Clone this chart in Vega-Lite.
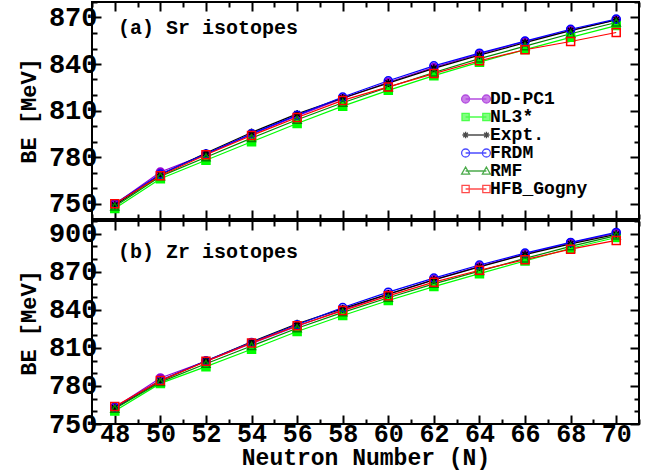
{
  "$schema": "https://vega.github.io/schema/vega-lite/v6.json",
  "padding": {"left": 16, "top": 0, "right": 10, "bottom": 0},
  "spacing": -4,
  "datasets": {
    "sr": [
      {"N": 48, "model": "DD-PC1", "BE": 749.5}, {"N": 50, "model": "DD-PC1", "BE": 770.3}, {"N": 52, "model": "DD-PC1", "BE": 781.8}, {"N": 54, "model": "DD-PC1", "BE": 794.6}, {"N": 56, "model": "DD-PC1", "BE": 806.5}, {"N": 58, "model": "DD-PC1", "BE": 817.8}, {"N": 60, "model": "DD-PC1", "BE": 828.2}, {"N": 62, "model": "DD-PC1", "BE": 837.8}, {"N": 64, "model": "DD-PC1", "BE": 846.5}, {"N": 66, "model": "DD-PC1", "BE": 854.5}, {"N": 68, "model": "DD-PC1", "BE": 861.8}, {"N": 70, "model": "DD-PC1", "BE": 868.5},
      {"N": 48, "model": "NL3*", "BE": 746.8}, {"N": 50, "model": "NL3*", "BE": 766.0}, {"N": 52, "model": "NL3*", "BE": 777.9}, {"N": 54, "model": "NL3*", "BE": 789.8}, {"N": 56, "model": "NL3*", "BE": 801.6}, {"N": 58, "model": "NL3*", "BE": 812.8}, {"N": 60, "model": "NL3*", "BE": 823.0}, {"N": 62, "model": "NL3*", "BE": 832.5}, {"N": 64, "model": "NL3*", "BE": 841.2}, {"N": 66, "model": "NL3*", "BE": 849.3}, {"N": 68, "model": "NL3*", "BE": 857.2}, {"N": 70, "model": "NL3*", "BE": 864.8},
      {"N": 48, "model": "Expt.", "BE": 748.9}, {"N": 50, "model": "Expt.", "BE": 768.5}, {"N": 52, "model": "Expt.", "BE": 782.6}, {"N": 54, "model": "Expt.", "BE": 795.8}, {"N": 56, "model": "Expt.", "BE": 807.8}, {"N": 58, "model": "Expt.", "BE": 818.1}, {"N": 60, "model": "Expt.", "BE": 827.7}, {"N": 62, "model": "Expt.", "BE": 837.2}, {"N": 64, "model": "Expt.", "BE": 845.7}, {"N": 66, "model": "Expt.", "BE": 853.8}, {"N": 68, "model": "Expt.", "BE": 861.5}, {"N": 70, "model": "Expt.", "BE": 868.5},
      {"N": 48, "model": "FRDM", "BE": 749.9}, {"N": 50, "model": "FRDM", "BE": 769.0}, {"N": 52, "model": "FRDM", "BE": 782.0}, {"N": 54, "model": "FRDM", "BE": 795.0}, {"N": 56, "model": "FRDM", "BE": 807.0}, {"N": 58, "model": "FRDM", "BE": 818.7}, {"N": 60, "model": "FRDM", "BE": 829.2}, {"N": 62, "model": "FRDM", "BE": 838.8}, {"N": 64, "model": "FRDM", "BE": 847.0}, {"N": 66, "model": "FRDM", "BE": 854.8}, {"N": 68, "model": "FRDM", "BE": 862.4}, {"N": 70, "model": "FRDM", "BE": 869.0},
      {"N": 48, "model": "RMF", "BE": 748.0}, {"N": 50, "model": "RMF", "BE": 767.5}, {"N": 52, "model": "RMF", "BE": 779.8}, {"N": 54, "model": "RMF", "BE": 792.2}, {"N": 56, "model": "RMF", "BE": 804.0}, {"N": 58, "model": "RMF", "BE": 815.0}, {"N": 60, "model": "RMF", "BE": 825.0}, {"N": 62, "model": "RMF", "BE": 834.5}, {"N": 64, "model": "RMF", "BE": 843.5}, {"N": 66, "model": "RMF", "BE": 851.5}, {"N": 68, "model": "RMF", "BE": 859.5}, {"N": 70, "model": "RMF", "BE": 866.8},
      {"N": 48, "model": "HFB_Gogny", "BE": 749.8}, {"N": 50, "model": "HFB_Gogny", "BE": 767.9}, {"N": 52, "model": "HFB_Gogny", "BE": 781.5}, {"N": 54, "model": "HFB_Gogny", "BE": 793.9}, {"N": 56, "model": "HFB_Gogny", "BE": 805.5}, {"N": 58, "model": "HFB_Gogny", "BE": 816.5}, {"N": 60, "model": "HFB_Gogny", "BE": 825.2}, {"N": 62, "model": "HFB_Gogny", "BE": 833.8}, {"N": 64, "model": "HFB_Gogny", "BE": 842.1}, {"N": 66, "model": "HFB_Gogny", "BE": 849.2}, {"N": 68, "model": "HFB_Gogny", "BE": 854.5}, {"N": 70, "model": "HFB_Gogny", "BE": 860.3}
    ],
    "zr": [
      {"N": 48, "model": "DD-PC1", "BE": 763.0}, {"N": 50, "model": "DD-PC1", "BE": 786.3}, {"N": 52, "model": "DD-PC1", "BE": 799.5}, {"N": 54, "model": "DD-PC1", "BE": 813.5}, {"N": 56, "model": "DD-PC1", "BE": 827.0}, {"N": 58, "model": "DD-PC1", "BE": 840.0}, {"N": 60, "model": "DD-PC1", "BE": 852.3}, {"N": 62, "model": "DD-PC1", "BE": 863.8}, {"N": 64, "model": "DD-PC1", "BE": 874.2}, {"N": 66, "model": "DD-PC1", "BE": 884.0}, {"N": 68, "model": "DD-PC1", "BE": 892.8}, {"N": 70, "model": "DD-PC1", "BE": 900.5},
      {"N": 48, "model": "NL3*", "BE": 760.3}, {"N": 50, "model": "NL3*", "BE": 782.0}, {"N": 52, "model": "NL3*", "BE": 795.2}, {"N": 54, "model": "NL3*", "BE": 808.9}, {"N": 56, "model": "NL3*", "BE": 822.9}, {"N": 58, "model": "NL3*", "BE": 835.5}, {"N": 60, "model": "NL3*", "BE": 847.3}, {"N": 62, "model": "NL3*", "BE": 858.3}, {"N": 64, "model": "NL3*", "BE": 868.5}, {"N": 66, "model": "NL3*", "BE": 878.5}, {"N": 68, "model": "NL3*", "BE": 888.5}, {"N": 70, "model": "NL3*", "BE": 897.0},
      {"N": 48, "model": "Expt.", "BE": 762.6}, {"N": 50, "model": "Expt.", "BE": 783.9}, {"N": 52, "model": "Expt.", "BE": 799.7}, {"N": 54, "model": "Expt.", "BE": 814.7}, {"N": 56, "model": "Expt.", "BE": 829.0}, {"N": 58, "model": "Expt.", "BE": 840.9}, {"N": 60, "model": "Expt.", "BE": 852.4}, {"N": 62, "model": "Expt.", "BE": 863.6}, {"N": 64, "model": "Expt.", "BE": 873.9}, {"N": 66, "model": "Expt.", "BE": 883.5}, {"N": 68, "model": "Expt.", "BE": 892.0}, {"N": 70, "model": "Expt.", "BE": 899.5},
      {"N": 48, "model": "FRDM", "BE": 763.2}, {"N": 50, "model": "FRDM", "BE": 784.5}, {"N": 52, "model": "FRDM", "BE": 799.8}, {"N": 54, "model": "FRDM", "BE": 814.3}, {"N": 56, "model": "FRDM", "BE": 828.2}, {"N": 58, "model": "FRDM", "BE": 841.8}, {"N": 60, "model": "FRDM", "BE": 853.9}, {"N": 62, "model": "FRDM", "BE": 865.0}, {"N": 64, "model": "FRDM", "BE": 875.3}, {"N": 66, "model": "FRDM", "BE": 884.7}, {"N": 68, "model": "FRDM", "BE": 893.1}, {"N": 70, "model": "FRDM", "BE": 901.0},
      {"N": 48, "model": "RMF", "BE": 762.0}, {"N": 50, "model": "RMF", "BE": 783.0}, {"N": 52, "model": "RMF", "BE": 797.5}, {"N": 54, "model": "RMF", "BE": 811.5}, {"N": 56, "model": "RMF", "BE": 825.5}, {"N": 58, "model": "RMF", "BE": 838.0}, {"N": 60, "model": "RMF", "BE": 849.5}, {"N": 62, "model": "RMF", "BE": 860.5}, {"N": 64, "model": "RMF", "BE": 870.5}, {"N": 66, "model": "RMF", "BE": 880.5}, {"N": 68, "model": "RMF", "BE": 890.0}, {"N": 70, "model": "RMF", "BE": 898.5},
      {"N": 48, "model": "HFB_Gogny", "BE": 763.7}, {"N": 50, "model": "HFB_Gogny", "BE": 784.2}, {"N": 52, "model": "HFB_Gogny", "BE": 799.4}, {"N": 54, "model": "HFB_Gogny", "BE": 813.9}, {"N": 56, "model": "HFB_Gogny", "BE": 827.4}, {"N": 58, "model": "HFB_Gogny", "BE": 839.4}, {"N": 60, "model": "HFB_Gogny", "BE": 851.0}, {"N": 62, "model": "HFB_Gogny", "BE": 861.8}, {"N": 64, "model": "HFB_Gogny", "BE": 871.2}, {"N": 66, "model": "HFB_Gogny", "BE": 879.5}, {"N": 68, "model": "HFB_Gogny", "BE": 887.8}, {"N": 70, "model": "HFB_Gogny", "BE": 894.7}
    ]
  },
  "vconcat": [
    {
      "width": 547,
      "height": 217,
      "data": {"name": "sr"},
      "title": {"text": "(a) Sr isotopes", "anchor": "start", "frame": "group", "orient": "top", "offset": 0, "baseline": "alphabetic", "dx": 26, "dy": 53, "fontSize": 20, "font": "Liberation Mono", "fontWeight": "bold", "color": "black"},
      "layer": [
        {
          "mark": {"type": "line", "strokeWidth": 1.2},
          "encoding": {
            "x": {"field": "N", "type": "quantitative", "scale": {"domain": [47, 71], "nice": false, "zero": false},
                  "axis": {"orient": "bottom", "values": [48, 50, 52, 54, 56, 58, 60, 62, 64, 66, 68, 70], "tickSize": -9, "labels": false, "title": null}},
            "y": {"field": "BE", "type": "quantitative", "scale": {"domain": [740, 880], "nice": false, "zero": false},
                  "axis": {"orient": "left", "values": [750, 780, 810, 840, 870], "tickSize": -9, "labelFontSize": 27, "labelPadding": 4, "title": "BE [MeV]", "titleFontSize": 22, "titlePadding": 8}},
            "stroke": {"field": "model", "type": "nominal", "legend": null,
                       "scale": {"domain": ["DD-PC1", "NL3*", "Expt.", "FRDM", "RMF", "HFB_Gogny"], "range": ["#9400d3", "#00ff00", "#000000", "#0000ff", "#008800", "#ff0000"]}}
          }
        },
        {
          "mark": {"type": "point", "filled": false, "size": 64, "strokeWidth": 1.5, "opacity": 1},
          "encoding": {
            "x": {"field": "N", "type": "quantitative", "axis": {"orient": "bottom", "values": [47, 49, 51, 53, 55, 57, 59, 61, 63, 65, 67, 69, 71], "tickSize": -5, "labels": false, "title": null}},
            "y": {"field": "BE", "type": "quantitative", "axis": {"orient": "left", "values": [740, 760, 770, 790, 800, 820, 830, 850, 860, 880], "tickSize": -5, "labels": false, "title": null}},
            "stroke": {"field": "model", "type": "nominal", "legend": null,
                       "scale": {"domain": ["DD-PC1", "NL3*", "Expt.", "FRDM", "RMF", "HFB_Gogny"], "range": ["#9400d3", "#00ff00", "#000000", "#0000ff", "#008800", "#ff0000"]}},
            "fill": {"field": "model", "type": "nominal", "legend": null,
                     "scale": {"domain": ["DD-PC1", "NL3*", "Expt.", "FRDM", "RMF", "HFB_Gogny"], "range": ["#9400d3", "#00ff00", "#000000", "transparent", "transparent", "transparent"]}},
            "shape": {"field": "model", "type": "nominal", "legend": null,
                      "scale": {"domain": ["DD-PC1", "NL3*", "Expt.", "FRDM", "RMF", "HFB_Gogny"], "range": ["circle", "square", "M-1 0L1 0M0 -1L0 1M-0.7 -0.7L0.7 0.7M-0.7 0.7L0.7 -0.7", "circle", "triangle-up", "square"]}}
          }
        },
        {
          "transform": [{"filter": "datum.N < 0"}],
          "mark": {"type": "point", "filled": false, "size": 64, "strokeWidth": 1.3},
          "encoding": {
            "x": {"field": "N", "type": "quantitative", "axis": {"orient": "top", "values": [48, 50, 52, 54, 56, 58, 60, 62, 64, 66, 68, 70], "tickSize": -9, "labels": false, "title": null}},
            "y": {"field": "BE", "type": "quantitative", "axis": {"orient": "right", "values": [750, 780, 810, 840, 870], "tickSize": -9, "labels": false, "title": null}},
            "stroke": {"field": "model", "type": "nominal",
                       "scale": {"domain": ["DD-PC1", "NL3*", "Expt.", "FRDM", "RMF", "HFB_Gogny"], "range": ["#9400d3", "#00ff00", "#000000", "#0000ff", "#008800", "#ff0000"]},
                       "legend": {"orient": "none", "legendX": 375, "legendY": 88, "title": null, "padding": 0, "labelFont": "Liberation Mono", "labelFontWeight": "bold", "labelFontSize": 18, "labelColor": "black", "symbolSize": 64, "symbolStrokeWidth": 1.3, "labelOffset": 5, "rowPadding": 0}},
            "fill": {"field": "model", "type": "nominal",
                     "scale": {"domain": ["DD-PC1", "NL3*", "Expt.", "FRDM", "RMF", "HFB_Gogny"], "range": ["#9400d3", "#00ff00", "#000000", "transparent", "transparent", "transparent"]},
                     "legend": {"orient": "none", "legendX": 375, "legendY": 88, "title": null, "padding": 0, "labelFont": "Liberation Mono", "labelFontWeight": "bold", "labelFontSize": 18, "labelColor": "black", "symbolSize": 64, "symbolStrokeWidth": 1.3, "labelOffset": 5, "rowPadding": 0}},
            "shape": {"field": "model", "type": "nominal",
                      "scale": {"domain": ["DD-PC1", "NL3*", "Expt.", "FRDM", "RMF", "HFB_Gogny"],
                                "range": [
                                  "M-3.6 0A1 1 0 1 0 -1.6 0A1 1 0 1 0 -3.6 0ZM1.6 0A1 1 0 1 0 3.6 0A1 1 0 1 0 1.6 0ZM-2.6 0L2.6 0",
                                  "M-3.5 -0.9L-1.7 -0.9L-1.7 0.9L-3.5 0.9ZM1.7 -0.9L3.5 -0.9L3.5 0.9L1.7 0.9ZM-2.6 0L2.6 0",
                                  "M-3.4 0L-1.8 0M-2.6 -0.8L-2.6 0.8M-3.17 -0.57L-2.03 0.57M-3.17 0.57L-2.03 -0.57M1.8 0L3.4 0M2.6 -0.8L2.6 0.8M2.03 -0.57L3.17 0.57M2.03 0.57L3.17 -0.57M-2.6 0L2.6 0",
                                  "M-3.6 0A1 1 0 1 0 -1.6 0A1 1 0 1 0 -3.6 0ZM1.6 0A1 1 0 1 0 3.6 0A1 1 0 1 0 1.6 0ZM-2.6 0L2.6 0",
                                  "M-2.6 -1L-1.6 0.8L-3.6 0.8ZM2.6 -1L3.6 0.8L1.6 0.8ZM-2.6 0L2.6 0",
                                  "M-3.5 -0.9L-1.7 -0.9L-1.7 0.9L-3.5 0.9ZM1.7 -0.9L3.5 -0.9L3.5 0.9L1.7 0.9ZM-2.6 0L2.6 0"
                                ]},
                      "legend": {"orient": "none", "legendX": 375, "legendY": 88, "title": null, "padding": 0, "labelFont": "Liberation Mono", "labelFontWeight": "bold", "labelFontSize": 18, "labelColor": "black", "symbolSize": 64, "symbolStrokeWidth": 1.3, "labelOffset": 5, "rowPadding": 0}}
          }
        },
        {
          "transform": [{"filter": "datum.N < 0"}],
          "mark": {"type": "point"},
          "encoding": {
            "x": {"field": "N", "type": "quantitative", "axis": {"orient": "top", "values": [47, 49, 51, 53, 55, 57, 59, 61, 63, 65, 67, 69, 71], "tickSize": -5, "labels": false, "title": null}},
            "y": {"field": "BE", "type": "quantitative", "axis": {"orient": "right", "values": [740, 760, 770, 790, 800, 820, 830, 850, 860, 880], "tickSize": -5, "labels": false, "title": null}}
          }
        }
      ],
      "resolve": {"axis": {"x": "independent", "y": "independent"}, "scale": {"stroke": "independent", "fill": "independent", "shape": "independent"}}
    },
    {
      "width": 547,
      "height": 203,
      "data": {"name": "zr"},
      "title": {"text": "(b) Zr isotopes", "anchor": "start", "frame": "group", "orient": "top", "offset": 0, "baseline": "alphabetic", "dx": 26, "dy": 58, "fontSize": 20, "font": "Liberation Mono", "fontWeight": "bold", "color": "black"},
      "layer": [
        {
          "mark": {"type": "line", "strokeWidth": 1.2},
          "encoding": {
            "x": {"field": "N", "type": "quantitative", "scale": {"domain": [47, 71], "nice": false, "zero": false},
                  "axis": {"orient": "bottom", "values": [48, 50, 52, 54, 56, 58, 60, 62, 64, 66, 68, 70], "tickSize": -9, "labelFontSize": 25, "labelPadding": 6, "title": "Neutron Number (N)", "titleFontSize": 23, "titlePadding": 0}},
            "y": {"field": "BE", "type": "quantitative", "scale": {"domain": [750, 910], "nice": false, "zero": false},
                  "axis": {"orient": "left", "values": [750, 780, 810, 840, 870, 900], "tickSize": -9, "labelFontSize": 27, "labelPadding": 4, "title": "BE [MeV]", "titleFontSize": 22, "titlePadding": 8}},
            "stroke": {"field": "model", "type": "nominal", "legend": null,
                       "scale": {"domain": ["DD-PC1", "NL3*", "Expt.", "FRDM", "RMF", "HFB_Gogny"], "range": ["#9400d3", "#00ff00", "#000000", "#0000ff", "#008800", "#ff0000"]}}
          }
        },
        {
          "mark": {"type": "point", "filled": false, "size": 64, "strokeWidth": 1.5, "opacity": 1},
          "encoding": {
            "x": {"field": "N", "type": "quantitative", "axis": {"orient": "bottom", "values": [47, 49, 51, 53, 55, 57, 59, 61, 63, 65, 67, 69, 71], "tickSize": -5, "labels": false, "title": null}},
            "y": {"field": "BE", "type": "quantitative", "axis": {"orient": "left", "values": [760, 770, 790, 800, 820, 830, 850, 860, 880, 890, 910], "tickSize": -5, "labels": false, "title": null}},
            "stroke": {"field": "model", "type": "nominal", "legend": null,
                       "scale": {"domain": ["DD-PC1", "NL3*", "Expt.", "FRDM", "RMF", "HFB_Gogny"], "range": ["#9400d3", "#00ff00", "#000000", "#0000ff", "#008800", "#ff0000"]}},
            "fill": {"field": "model", "type": "nominal", "legend": null,
                     "scale": {"domain": ["DD-PC1", "NL3*", "Expt.", "FRDM", "RMF", "HFB_Gogny"], "range": ["#9400d3", "#00ff00", "#000000", "transparent", "transparent", "transparent"]}},
            "shape": {"field": "model", "type": "nominal", "legend": null,
                      "scale": {"domain": ["DD-PC1", "NL3*", "Expt.", "FRDM", "RMF", "HFB_Gogny"], "range": ["circle", "square", "M-1 0L1 0M0 -1L0 1M-0.7 -0.7L0.7 0.7M-0.7 0.7L0.7 -0.7", "circle", "triangle-up", "square"]}}
          }
        },
        {
          "transform": [{"filter": "datum.N < 0"}],
          "mark": {"type": "point"},
          "encoding": {
            "x": {"field": "N", "type": "quantitative", "axis": {"orient": "top", "values": [48, 50, 52, 54, 56, 58, 60, 62, 64, 66, 68, 70], "tickSize": -9, "labels": false, "title": null}},
            "y": {"field": "BE", "type": "quantitative", "axis": {"orient": "right", "values": [750, 780, 810, 840, 870, 900], "tickSize": -9, "labels": false, "title": null}}
          }
        },
        {
          "transform": [{"filter": "datum.N < 0"}],
          "mark": {"type": "point"},
          "encoding": {
            "x": {"field": "N", "type": "quantitative", "axis": {"orient": "top", "values": [47, 49, 51, 53, 55, 57, 59, 61, 63, 65, 67, 69, 71], "tickSize": -5, "labels": false, "title": null}},
            "y": {"field": "BE", "type": "quantitative", "axis": {"orient": "right", "values": [760, 770, 790, 800, 820, 830, 850, 860, 880, 890, 910], "tickSize": -5, "labels": false, "title": null}}
          }
        }
      ],
      "resolve": {"axis": {"x": "independent", "y": "independent"}, "scale": {"stroke": "independent", "fill": "independent", "shape": "independent"}}
    }
  ],
  "resolve": {"scale": {"x": "independent", "y": "independent", "stroke": "independent", "fill": "independent", "shape": "independent"}},
  "config": {
    "font": "Liberation Mono",
    "view": {"stroke": "black", "strokeWidth": 2},
    "axis": {"domain": false, "grid": false, "tickColor": "black", "tickWidth": 2, "labelFont": "Liberation Mono", "labelFontWeight": "bold", "labelColor": "black", "titleFont": "Liberation Mono", "titleFontWeight": "bold", "titleColor": "black"}
  }
}
